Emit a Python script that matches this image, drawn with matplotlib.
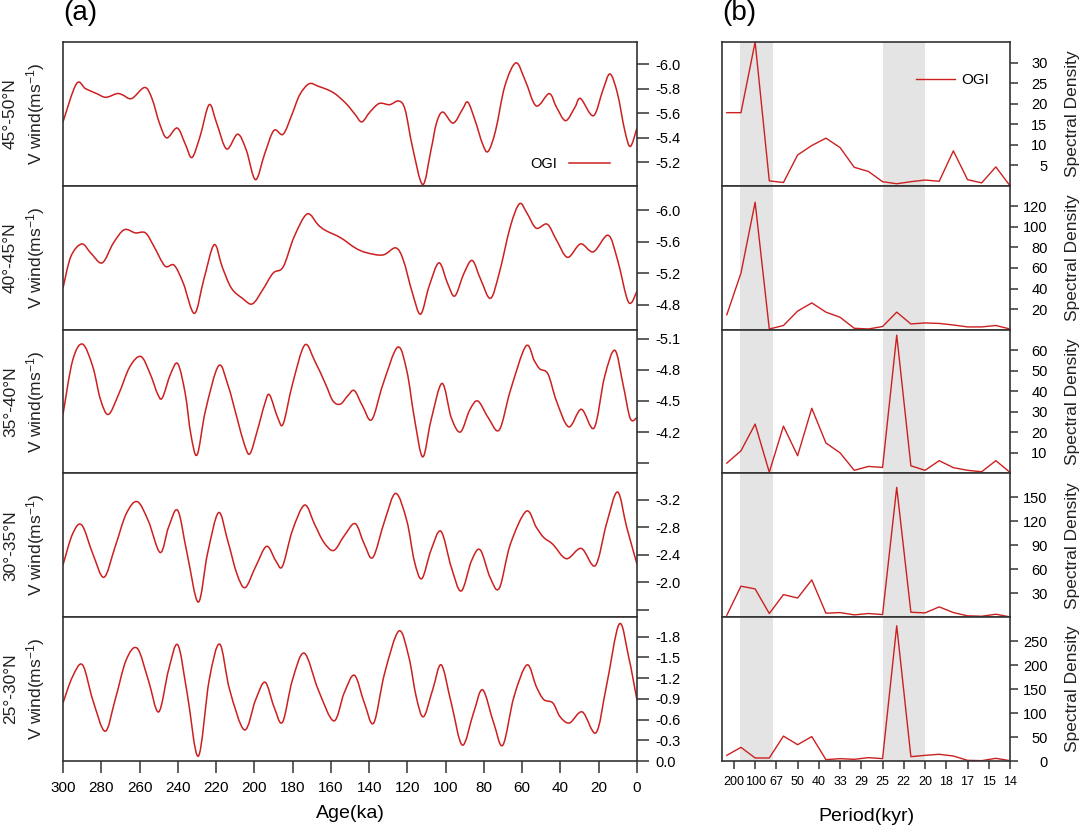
import numpy as np
import matplotlib
matplotlib.use("Agg")
from matplotlib import pyplot as plt
from matplotlib.path import Path
from matplotlib.patches import PathPatch
from matplotlib.lines import Line2D

plt.rcParams["font.family"] = ["Liberation Sans", "DejaVu Sans"]
plt.rcParams["mathtext.default"] = "regular"

RED = "#cc2020"
SPINE = "#333333"
BAND = "#e4e4e4"

# ---- (a) V wind time series ----
lat_labels = ["45°-50°N", "40°-45°N", "35°-40°N", "30°-35°N", "25°-30°N"]

age_1 = [300, 293.0, 288.2, 282.4, 277.6, 271.8, 268.9, 264.1, 257.3, 253.5, 249.6, 245.8,
         240.3, 236.1, 232.6, 228.4, 223.6, 219.7, 214.5, 208.7, 204.2, 199.4, 194.6, 189.8,
         184.9, 180.1, 176.3, 171.4, 166.6, 158.9, 152.1, 147.3, 143.8, 139.6, 134.7, 129.3,
         124.5, 121.2, 117.4, 112.0, 107.7, 104.8, 101.5, 96.1, 91.3, 88.4, 84.6, 80.7, 77.8,
         73.9, 69.1, 63.3, 58.5, 52.7, 45.9, 42.1, 37.3, 32.4, 29.5, 22.8, 17.8, 14.1, 10.2,
         6.4, 3.5, 0]
vwind_1 = [-5.53, -5.84, -5.80, -5.76, -5.73, -5.76, -5.75, -5.72, -5.81, -5.72, -5.52, -5.40,
           -5.48, -5.35, -5.24, -5.41, -5.67, -5.52, -5.31, -5.43, -5.30, -5.06, -5.27, -5.46,
           -5.43, -5.60, -5.75, -5.84, -5.82, -5.77, -5.68, -5.59, -5.53, -5.61, -5.68, -5.67,
           -5.70, -5.63, -5.33, -5.02, -5.30, -5.52, -5.61, -5.52, -5.63, -5.69, -5.54, -5.35,
           -5.29, -5.46, -5.82, -6.01, -5.87, -5.66, -5.76, -5.65, -5.54, -5.65, -5.72, -5.58,
           -5.79, -5.92, -5.76, -5.46, -5.33, -5.48]

age_2 = [300, 295.9, 290.2, 285.3, 279.5, 273.7, 268.0, 262.2, 256.9, 252.5, 246.7, 241.9,
         237.1, 231.3, 226.4, 221.0, 216.8, 212.0, 206.2, 201.0, 195.6, 190.2, 184.9, 179.2,
         172.4, 166.6, 162.7, 155.0, 147.3, 141.5, 132.8, 126.1, 122.2, 117.4, 113.1, 108.7,
         103.5, 99.0, 95.2, 90.4, 86.1, 81.7, 76.6, 72.0, 66.2, 61.4, 57.5, 52.7, 46.9, 42.1,
         36.3, 29.5, 22.8, 15.1, 10.2, 4.4, 0]
vwind_2 = [-5.01, -5.41, -5.57, -5.45, -5.33, -5.58, -5.75, -5.71, -5.71, -5.54, -5.29, -5.30,
           -5.07, -4.69, -5.12, -5.56, -5.28, -5.01, -4.88, -4.81, -4.99, -5.20, -5.28, -5.66,
           -5.95, -5.81, -5.74, -5.65, -5.52, -5.46, -5.43, -5.52, -5.37, -4.95, -4.68, -5.03,
           -5.33, -5.07, -4.91, -5.20, -5.36, -5.12, -4.88, -5.20, -5.79, -6.08, -5.96, -5.77,
           -5.82, -5.62, -5.40, -5.57, -5.47, -5.68, -5.37, -4.83, -4.97]

age_3 = [300, 295.0, 289.8, 284.4, 280.5, 276.3, 270.8, 265.1, 259.3, 254.4, 250.6, 248.1,
         243.8, 240.0, 236.1, 233.2, 229.9, 225.5, 218.7, 213.9, 209.1, 205.2, 202.3, 198.5,
         194.6, 192.1, 187.8, 184.9, 180.1, 173.7, 168.5, 162.7, 158.9, 155.0, 151.2, 147.7,
         143.4, 138.6, 132.8, 125.1, 120.3, 116.4, 112.0, 107.7, 101.9, 97.1, 92.3, 87.5, 83.2,
         77.8, 72.0, 66.2, 58.1, 53.7, 50.8, 46.5, 42.1, 35.7, 29.1, 22.4, 17.0, 11.6, 7.3,
         3.5, 0]
vwind_3 = [-4.37, -4.89, -5.05, -4.83, -4.52, -4.37, -4.57, -4.83, -4.93, -4.76, -4.57, -4.53,
           -4.76, -4.86, -4.57, -4.18, -3.98, -4.41, -4.84, -4.66, -4.34, -4.08, -3.99, -4.21,
           -4.47, -4.56, -4.34, -4.28, -4.66, -5.04, -4.89, -4.66, -4.50, -4.47, -4.55, -4.60,
           -4.45, -4.32, -4.66, -5.02, -4.79, -4.34, -3.96, -4.31, -4.67, -4.34, -4.20, -4.41,
           -4.50, -4.34, -4.22, -4.60, -5.03, -4.89, -4.81, -4.76, -4.50, -4.25, -4.42, -4.24,
           -4.73, -4.99, -4.66, -4.33, -4.34]

age_4 = [300, 295.0, 290.2, 284.4, 278.6, 272.8, 267.0, 261.2, 255.4, 249.2, 244.8, 240.0,
         235.1, 229.3, 224.5, 218.7, 213.9, 209.1, 204.8, 199.4, 193.6, 188.8, 185.3, 180.1,
         173.7, 168.5, 163.7, 158.5, 153.1, 147.3, 142.5, 138.0, 131.9, 126.1, 120.3, 116.4,
         112.5, 107.7, 102.5, 97.1, 91.9, 86.5, 82.0, 76.8, 72.0, 66.2, 57.9, 52.7, 48.8, 44.0,
         36.9, 29.1, 21.8, 16.0, 10.2, 5.4, 0]
vwind_4 = [-2.25, -2.70, -2.83, -2.41, -2.07, -2.51, -2.99, -3.17, -2.89, -2.43, -2.80, -3.04,
           -2.41, -1.71, -2.41, -3.01, -2.60, -2.12, -1.92, -2.22, -2.52, -2.31, -2.23, -2.75,
           -3.12, -2.84, -2.58, -2.46, -2.67, -2.85, -2.55, -2.36, -2.89, -3.29, -2.89, -2.31,
           -2.05, -2.46, -2.74, -2.22, -1.87, -2.31, -2.47, -2.07, -1.91, -2.55, -3.03, -2.80,
           -2.65, -2.55, -2.34, -2.49, -2.24, -2.84, -3.31, -2.80, -2.26]

age_5 = [300, 295.0, 289.8, 284.4, 278.0, 272.8, 267.0, 261.2, 255.4, 250.0, 244.8, 240.0,
         235.1, 229.3, 223.6, 218.1, 212.9, 205.2, 199.4, 194.4, 189.8, 185.3, 180.1, 173.9,
         166.6, 158.5, 153.1, 147.7, 142.5, 137.6, 131.9, 124.5, 119.3, 115.4, 111.6, 106.8,
         102.3, 97.1, 91.3, 85.5, 80.7, 74.9, 70.1, 64.3, 57.5, 52.7, 48.8, 44.0, 40.2, 35.3,
         28.6, 21.4, 16.0, 9.3, 4.4, 0]
vwind_5 = [-0.84, -1.22, -1.39, -0.88, -0.43, -0.88, -1.46, -1.63, -1.17, -0.71, -1.32, -1.68,
           -0.98, -0.07, -1.17, -1.69, -1.03, -0.45, -0.88, -1.14, -0.79, -0.56, -1.17, -1.56,
           -1.03, -0.58, -0.98, -1.24, -0.84, -0.55, -1.27, -1.88, -1.51, -0.93, -0.64, -1.03,
           -1.39, -0.84, -0.23, -0.69, -1.03, -0.55, -0.23, -0.93, -1.39, -1.08, -0.89, -0.84,
           -0.64, -0.55, -0.71, -0.41, -1.08, -1.98, -1.51, -0.88]

ages = [age_1, age_2, age_3, age_4, age_5]
vwinds = [vwind_1, vwind_2, vwind_3, vwind_4, vwind_5]

# axis ranges (reversed: more negative upward) and ticks
ylims_a = [(-5.01, -6.18), (-4.484, -6.307), (-3.80, -5.19), (-1.49, -3.58), (-0.01, -2.08)]
yticks_a = [[-6.0, -5.8, -5.6, -5.4, -5.2],
            [-6.0, -5.6, -5.2, -4.8],
            [-5.1, -4.8, -4.5, -4.2, -3.9],
            [-3.2, -2.8, -2.4, -2.0, -1.6],
            [-1.8, -1.5, -1.2, -0.9, -0.6, -0.3, 0.0]]
ytlabels_a = [["-6.0", "-5.8", "-5.6", "-5.4", "-5.2"],
              ["-6.0", "-5.6", "-5.2", "-4.8"],
              ["-5.1", "-4.8", "-4.5", "-4.2", ""],
              ["-3.2", "-2.8", "-2.4", "-2.0", ""],
              ["-1.8", "-1.5", "-1.2", "-0.9", "-0.6", "-0.3", "0.0"]]

# ---- (b) spectra: harmonics k/300 kyr^-1 ----
harmonic = list(range(1, 22))
spec_1 = [17.8, 17.8, 35.0, 1.2, 0.8, 7.5, 9.8, 11.6, 9.3, 4.5, 3.5, 1.0, 0.5, 1.0, 1.4,
          1.1, 8.5, 1.5, 0.7, 4.6, 0.0]
spec_2 = [14.5, 55, 124, 0.6, 4, 18, 26, 17, 12, 1.3, 0.6, 3, 17, 5.5, 6.5, 6, 4.5, 2.6,
          2.6, 4, 0.6]
spec_3 = [5, 11, 24, 0.6, 23, 8.6, 31.7, 14.8, 10, 1.5, 3.4, 2.9, 67.3, 3.7, 1.5, 6.2, 2.8,
          1.5, 0.8, 6.2, 0.5]
spec_4 = [2.5, 38.8, 35.4, 4.6, 28.3, 24, 46.7, 5, 5.8, 2.9, 4.6, 3.3, 162.5, 6.2, 5.4,
          12.9, 5.8, 1.7, 1.2, 3.7, 0.4]
spec_5 = [11.8, 28.5, 6.3, 6.3, 52, 34, 51, 2.8, 4.9, 3.5, 7, 4.9, 282, 9, 11.8, 14, 10.4,
          1.4, 0.7, 5.6, 0.7]
spectra = [spec_1, spec_2, spec_3, spec_4, spec_5]
ylims_b = [35, 140, 70, 180, 300]
yticks_b = [[5, 10, 15, 20, 25, 30],
            [20, 40, 60, 80, 100, 120],
            [10, 20, 30, 40, 50, 60],
            [30, 60, 90, 120, 150],
            [0, 50, 100, 150, 200, 250]]
period_ticks = [200, 100, 67, 50, 40, 33, 29, 25, 22, 20, 18, 17, 15, 14]
bands = [(156, 70), (25, 20)]  # shaded period bands (kyr)

freq = np.array(harmonic) / 300.0
tick_freq = np.arange(1, 15) * 0.005


def smooth_path(x, y):
    # Catmull-Rom curve through the points, as cubic Bezier segments
    x = np.asarray(x, float)
    y = np.asarray(y, float)
    verts = [(x[0], y[0])]
    codes = [Path.MOVETO]
    n = len(x)
    for k in range(n - 1):
        k0 = max(k - 1, 0)
        k3 = min(k + 2, n - 1)
        c1 = (x[k] + (x[k + 1] - x[k0]) / 6, y[k] + (y[k + 1] - y[k0]) / 6)
        c2 = (x[k + 1] - (x[k3] - x[k]) / 6, y[k + 1] - (y[k3] - y[k]) / 6)
        verts += [c1, c2, (x[k + 1], y[k + 1])]
        codes += [Path.CURVE4] * 3
    return Path(verts, codes)


fig = plt.figure(figsize=(10.8, 8.3), dpi=100)
W, H = 1080.0, 830.0
top_px, bot_px = 42.0, 761.0
ph = (bot_px - top_px) / 5

for i in range(5):
    y0 = 1 - (top_px + (i + 1) * ph) / H
    # ---- left panel ----
    ax = fig.add_axes([63 / W, y0, 574 / W, ph / H])
    ax.add_patch(PathPatch(smooth_path(ages[i], vwinds[i]), facecolor="none",
                           edgecolor=RED, lw=1.1))
    ax.set_xlim(300, 0)
    ax.set_ylim(*ylims_a[i])
    ax.yaxis.tick_right()
    ax.set_yticks(yticks_a[i])
    ax.set_yticklabels(ytlabels_a[i])
    ax.tick_params(axis="y", direction="out", length=8.5, width=1.1, color=SPINE,
                   labelsize=10.5, pad=5)
    for s in ax.spines.values():
        s.set_color(SPINE)
        s.set_linewidth(1.2)
    if i == 4:
        ax.set_xticks(np.arange(300, -1, -20))
        ax.tick_params(axis="x", direction="out", length=8.5, width=1.1, color=SPINE,
                       labelsize=11, pad=6)
        ax.set_xlabel("Age(ka)", fontsize=14, labelpad=7)
    else:
        ax.set_xticks([])
    if i == 0:
        ax.legend([Line2D([], [], color=RED, lw=1.1)], ["OGI"], loc="center right",
                  bbox_to_anchor=(0.965, 0.153), frameon=False, markerfirst=False,
                  handlelength=2.8, fontsize=10.5, borderpad=0, handletextpad=0.8)
    yc = 1 - (top_px + (i + 0.5) * ph) / H
    fig.text(25 / W, yc, lat_labels[i] + "\nV wind(ms$^{-1}$)", rotation=90,
             ha="center", va="center", multialignment="center", fontsize=12.5,
             linespacing=1.35, color="#222222")

    # ---- right panel ----
    bx = fig.add_axes([722 / W, y0, 288 / W, ph / H])
    for p_long, p_short in bands:
        bx.axvspan(1.0 / p_long, 1.0 / p_short, color=BAND, lw=0, zorder=0)
    bx.plot(freq, spectra[i], color=RED, lw=1.0, label="OGI")
    bx.set_xlim(0.0022, 0.07)
    bx.set_ylim(0, ylims_b[i])
    bx.yaxis.tick_right()
    bx.set_yticks(yticks_b[i])
    bx.tick_params(axis="y", direction="out", length=6, width=1.1, color=SPINE,
                   labelsize=10.5, pad=21)
    for lab in bx.get_yticklabels():
        lab.set_horizontalalignment("right")
    for s in bx.spines.values():
        s.set_color(SPINE)
        s.set_linewidth(1.2)
    if i == 4:
        bx.set_xticks(tick_freq)
        bx.set_xticklabels([str(p) for p in period_ticks])
        bx.tick_params(axis="x", direction="out", length=6, width=1.1, color=SPINE,
                       labelsize=9, pad=5)
        bx.set_xlabel("Period(kyr)", fontsize=14, labelpad=14)
    else:
        bx.set_xticks([])
    if i == 0:
        bx.legend(loc="center right", bbox_to_anchor=(0.955, 0.736), frameon=False,
                  handlelength=2.6, fontsize=11, borderpad=0, handletextpad=0.4)
    fig.text(1072 / W, yc, "Spectral Density", rotation=90, ha="center", va="center",
             fontsize=12.5, color="#222222")

fig.text(63 / W, 1 - 13 / H, "(a)", fontsize=20, ha="left", va="center")
fig.text(722 / W, 1 - 13 / H, "(b)", fontsize=20, ha="left", va="center")

fig.savefig("out.png", dpi=100)
